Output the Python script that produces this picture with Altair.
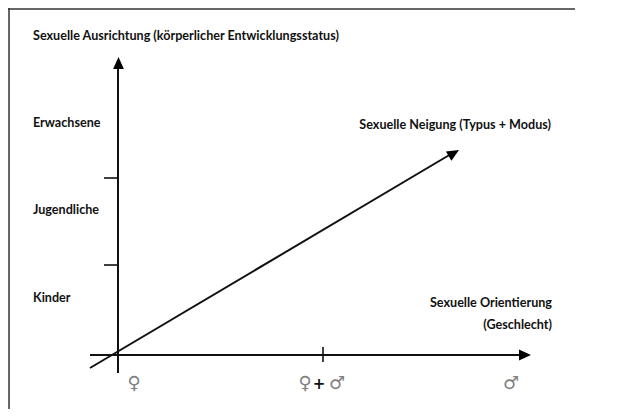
import altair as alt
import pandas as pd

# ---- diagram content (coordinates in the figure's own pixel space) ----
# y-axis categories (körperlicher Entwicklungsstatus)
level_labels = ["Erwachsene", "Jugendliche", "Kinder"]
level_label_y = [127, 214, 302]
level_tick_y = [178, 265]

# x-axis categories (Geschlecht)
gender_labels = ["♀", "♀", "+", "♂", "♂"]
gender_label_x = [134, 305, 319, 337, 511]
gender_label_colors = ["#808080", "#808080", "#111111", "#808080", "#808080"]
gender_tick_x = [323]

# axis / arrow segments: start and end
seg_x1 = [118, 90, 90]
seg_y1 = [373, 355, 368]
seg_x2 = [118, 522, 451]
seg_y2 = [66, 355, 154]

# arrow heads: tip position and direction (degrees clockwise from "up")
head_x = [118.5, 531, 459]
head_y = [57, 355, 150]
head_angle = [0, 90, 59.4]

# frame lines (top and left)
frame_top_x = [8, 575]
frame_left_y = [8, 409]

# titles
title_texts = [
    "Sexuelle Ausrichtung (körperlicher Entwicklungsstatus)",
    "Sexuelle Neigung (Typus + Modus)",
    "Sexuelle Orientierung",
    "(Geschlecht)",
]
title_x = [33, 551, 552, 552]
title_y = [40, 129, 307, 329]
title_align = ["left", "right", "right", "right"]

FONT = "Lato"
FS = 12.6
W, H = 604, 401
XS = alt.Scale(domain=[8, 8 + W], nice=False, zero=False)
YS = alt.Scale(domain=[8, 8 + H], nice=False, zero=False, reverse=True)


def X(f="x"):
    return alt.X(f"{f}:Q", scale=XS, axis=None)


def Y(f="y"):
    return alt.Y(f"{f}:Q", scale=YS, axis=None)


frame_top = alt.Chart(pd.DataFrame({"x": [frame_top_x[0]], "x2": [frame_top_x[1]], "y": [9]})).mark_rule(
    color="#333333", strokeWidth=1.5
).encode(x=X(), x2="x2:Q", y=Y())

frame_left = alt.Chart(pd.DataFrame({"x": [9], "y": [frame_left_y[0]], "y2": [frame_left_y[1]]})).mark_rule(
    color="#333333", strokeWidth=1.5
).encode(x=X(), y=Y(), y2="y2:Q")

segs = alt.Chart(pd.DataFrame({"x": seg_x1, "y": seg_y1, "x2": seg_x2, "y2": seg_y2})).mark_rule(
    color="#111111", strokeWidth=2
).encode(x=X(), y=Y(), x2="x2:Q", y2="y2:Q")

ytick_df = pd.DataFrame({"x": [104] * len(level_tick_y), "x2": [118] * len(level_tick_y), "y": level_tick_y})
yticks = alt.Chart(ytick_df).mark_rule(color="#111111", strokeWidth=1.6).encode(
    x=X(), x2="x2:Q", y=Y()
)

xtick_df = pd.DataFrame({"x": gender_tick_x, "y": [347] * len(gender_tick_x), "y2": [362] * len(gender_tick_x)})
xticks = alt.Chart(xtick_df).mark_rule(color="#111111", strokeWidth=1.6).encode(
    x=X(), y=Y(), y2="y2:Q"
)

heads = alt.Chart(pd.DataFrame({"x": head_x, "y": head_y, "a": head_angle})).mark_point(
    shape="M0,0L-0.45,1L0.45,1Z", size=576, filled=True, color="#000000", opacity=1
).encode(x=X(), y=Y(), angle=alt.Angle("a:Q", scale=None))

level_df = pd.DataFrame({"x": [33] * 3, "y": level_label_y, "t": level_labels})
levels = alt.Chart(level_df).mark_text(
    align="left", baseline="alphabetic", font=FONT, fontWeight="bold", fontSize=FS, color="#111111"
).encode(x=X(), y=Y(), text="t:N")

tl = []
for t, x, y, a in zip(title_texts, title_x, title_y, title_align):
    tl.append(
        alt.Chart(pd.DataFrame({"x": [x], "y": [y], "t": [t]})).mark_text(
            align=a, baseline="alphabetic", font=FONT, fontWeight="bold", fontSize=FS, color="#111111"
        ).encode(x=X(), y=Y(), text="t:N")
    )

gl = []
for t, x, c in zip(gender_labels, gender_label_x, gender_label_colors):
    gl.append(
        alt.Chart(pd.DataFrame({"x": [x], "y": [384], "t": [t]})).mark_text(
            align="center", baseline="middle", font="DejaVu Sans",
            fontWeight="bold" if t == "+" else "normal",
            fontSize=18 if t != "+" else 15, color=c
        ).encode(x=X(), y=Y(), text="t:N")
    )

chart = alt.layer(frame_top, frame_left, segs, yticks, xticks, heads, levels, *tl, *gl).properties(
    width=W, height=H, padding=0, autosize="none"
).configure_view(stroke=None)

chart.save("out.html", embed_options={"renderer": "svg", "actions": False})
